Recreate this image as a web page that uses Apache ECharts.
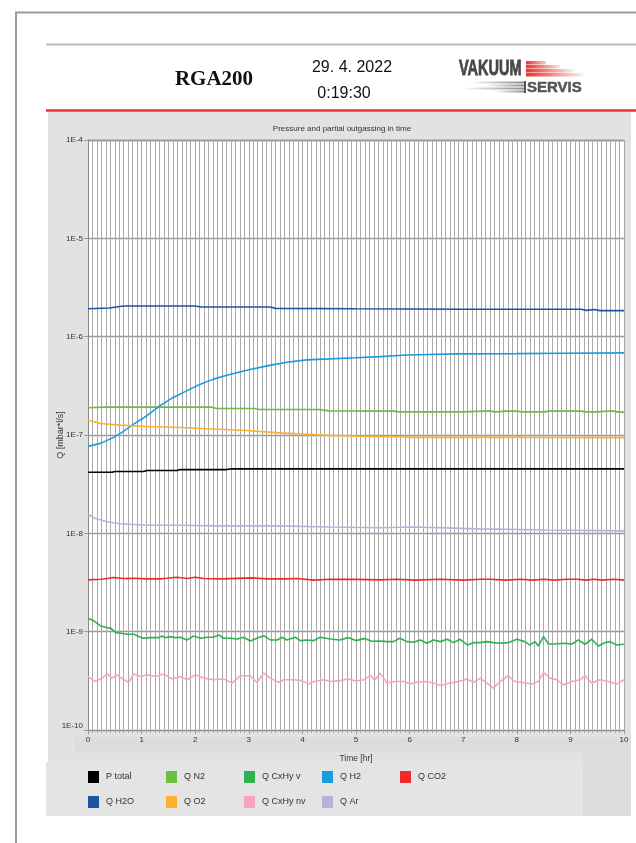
<!DOCTYPE html>
<html><head><meta charset="utf-8">
<script src="https://cdn.jsdelivr.net/npm/echarts@6/dist/echarts.min.js"></script>
<style>html,body{margin:0;padding:0;background:#fff}#main{width:636px;height:843px}</style>
</head><body><div id="main"></div>
<script>
// ---------- data (time in hours, Q in mbar*l/s) ----------
const seriesNames = ['P total','Q N2','Q CxHy v','Q H2','Q CO2','Q H2O','Q O2','Q CxHy nv','Q Ar'];
const seriesColors = ['#000000','#6abd45','#2eb24e','#1b9cdb','#ee2b2b','#1d54a4','#fbb02f','#f5a3c1','#b9b1d9'];
const xTickLabels = ['0','1','2','3','4','5','6','7','8','9','10'];
const yTickLabels = ['1E-10','1E-9','1E-8','1E-7','1E-6','1E-5','1E-4'];
const legendRows = [['P total','Q N2','Q CxHy v','Q H2','Q CO2'],['Q H2O','Q O2','Q CxHy nv','Q Ar']];

const tPtotal = [0,0.45,0.5,1.04,1.1,1.66,1.72,2.59,2.65,10];
const vPtotal = [4.18e-8,4.18e-8,4.25e-8,4.25e-8,4.35e-8,4.35e-8,4.45e-8,4.45e-8,4.52e-8,4.52e-8];

const tN2 = [0,0.3,2.3,2.4,3.1,3.2,4.3,4.5,5.7,5.8,7.0,7.4,7.5,7.6,7.8,8.0,8.1,8.5,8.6,9.2,9.3,9.5,9.7,9.8,9.9,10];
const vN2 = [1.89e-7,1.92e-7,1.92e-7,1.86e-7,1.86e-7,1.82e-7,1.82e-7,1.76e-7,1.75e-7,1.72e-7,1.72e-7,1.75e-7,1.75e-7,1.72e-7,1.75e-7,1.75e-7,1.72e-7,1.72e-7,1.75e-7,1.75e-7,1.72e-7,1.72e-7,1.75e-7,1.75e-7,1.71e-7,1.71e-7];

const tCxHyV = [0,0.11,0.24,0.33,0.43,0.52,0.61,0.74,0.86,0.95,1.04,1.16,1.32,1.38,1.44,1.54,1.63,1.72,1.85,1.97,2.10,2.22,2.34,2.44,2.53,2.66,2.78,2.90,3.03,3.15,3.28,3.40,3.53,3.62,3.71,3.87,3.96,4.08,4.21,4.33,4.52,
  4.7,4.85,5.0,5.15,5.3,
  5.45,5.58,5.70,5.82,5.95,6.07,6.20,6.32,6.45,6.57,6.70,6.82,6.94,7.08,7.19,7.32,7.44,7.56,7.69,7.84,8.0,8.15,8.24,8.34,8.40,8.50,8.59,8.71,8.87,9.03,9.15,9.27,9.40,9.52,9.64,9.74,9.86,10.0];
const vCxHyV = [13.7e-10,12.9e-10,11.4e-10,11.1e-10,10.8e-10,9.77e-10,9.63e-10,9.41e-10,9.41e-10,8.90e-10,
  8.57e-10,8.69e-10,8.69e-10,9.04e-10,8.69e-10,8.90e-10,8.69e-10,8.77e-10,8.24e-10,9.04e-10,
  8.57e-10,8.77e-10,8.77e-10,9.26e-10,8.57e-10,8.57e-10,8.43e-10,8.77e-10,8.05e-10,
  8.57e-10,9.10e-10,8.24e-10,8.24e-10,8.77e-10,8.24e-10,8.77e-10,8.11e-10,8.24e-10,8.11e-10,8.77e-10,8.43e-10,
  8.24e-10,8.70e-10,8.11e-10,8.50e-10,8.00e-10,
  8.05e-10,7.92e-10,7.92e-10,8.57e-10,7.92e-10,7.80e-10,8.24e-10,7.62e-10,8.24e-10,7.92e-10,
  8.37e-10,7.73e-10,8.37e-10,7.33e-10,7.73e-10,7.73e-10,7.92e-10,7.73e-10,7.62e-10,7.73e-10,
  8.37e-10,7.92e-10,7.33e-10,7.92e-10,7.16e-10,8.90e-10,7.50e-10,7.50e-10,7.62e-10,7.50e-10,
  8.24e-10,7.45e-10,8.37e-10,7.16e-10,7.73e-10,7.92e-10,7.33e-10,7.45e-10];

const tH2 = [0,0.23,0.48,0.66,0.85,1.1,1.34,1.59,1.84,2.03,2.34,2.59,2.96,3.34,3.71,4.08,4.51,5.0,5.45,5.95,6.88,8.0,8.87,10];
const vH2 = [7.66e-8,8.22e-8,9.46e-8,1.09e-7,1.29e-7,1.57e-7,1.98e-7,2.41e-7,2.81e-7,3.16e-7,3.70e-7,4.06e-7,4.56e-7,5.05e-7,5.50e-7,5.81e-7,5.94e-7,6.10e-7,6.27e-7,6.52e-7,6.68e-7,6.72e-7,6.79e-7,6.84e-7];

const tCO2 = [0,0.24,0.36,0.47,0.67,0.85,1.1,1.35,1.47,1.66,1.85,2.0,2.16,2.47,3.09,3.34,3.71,3.9,4.21,4.52,5.0,5.45,5.76,6.1,6.57,7.0,7.32,7.5,7.8,8.06,8.3,8.5,8.7,8.93,9.12,9.3,9.43,9.6,9.8,10];
const vCO2 = [3.36e-9,3.41e-9,3.47e-9,3.55e-9,3.47e-9,3.49e-9,3.44e-9,3.44e-9,3.49e-9,3.58e-9,
  3.47e-9,3.58e-9,3.47e-9,3.44e-9,3.52e-9,3.44e-9,3.44e-9,3.47e-9,3.34e-9,3.41e-9,
  3.40e-9,3.36e-9,3.41e-9,3.34e-9,3.41e-9,3.34e-9,3.41e-9,3.41e-9,3.34e-9,3.41e-9,
  3.34e-9,3.41e-9,3.34e-9,3.41e-9,3.41e-9,3.34e-9,3.41e-9,3.34e-9,3.41e-9,3.34e-9];

const tH2O = [0,0.4,0.66,2.0,2.1,3.4,3.5,5.0,7.0,9.2,9.3,9.45,9.55,10];
const vH2O = [1.92e-6,1.96e-6,2.05e-6,2.05e-6,2.0e-6,2.0e-6,1.94e-6,1.92e-6,1.90e-6,1.90e-6,1.85e-6,1.89e-6,1.84e-6,1.84e-6];

const tO2 = [0,0.23,0.6,1.1,1.72,2.34,2.96,3.58,4.2,4.5,5.45,5.9,6.0,7.3,7.37,7.45,7.95,8.0,8.1,10];
const vO2 = [1.42e-7,1.31e-7,1.26e-7,1.22e-7,1.19e-7,1.15e-7,1.11e-7,1.05e-7,1.01e-7,9.91e-8,9.61e-8,9.61e-8,9.46e-8,9.46e-8,9.62e-8,9.46e-8,9.46e-8,9.62e-8,9.46e-8,9.40e-8];

const tCxHyNv = [0,0.14,0.26,0.36,0.45,0.54,0.67,0.76,0.85,0.98,1.10,1.26,1.41,1.57,1.72,1.85,2.0,2.16,2.34,2.53,2.69,2.84,3.03,3.15,3.28,3.40,3.56,3.65,3.84,3.99,4.12,4.21,4.40,4.52,
  4.7,4.85,5.0,5.15,5.27,5.35,
  5.45,5.58,5.73,5.89,6.01,6.14,6.29,6.45,6.57,6.76,6.91,7.07,7.19,7.32,7.44,7.56,7.69,7.84,7.97,8.12,8.28,8.40,8.50,8.62,8.75,8.87,9.03,9.18,9.27,9.40,9.55,9.71,9.86,10.0];
const vCxHyNv = [3.50e-10,3.11e-10,3.37e-10,3.72e-10,3.37e-10,3.64e-10,3.24e-10,3.04e-10,3.72e-10,3.50e-10,
  3.64e-10,3.50e-10,3.72e-10,3.31e-10,3.50e-10,3.24e-10,3.64e-10,3.37e-10,3.24e-10,3.31e-10,
  3.00e-10,3.56e-10,3.56e-10,3.04e-10,3.79e-10,3.37e-10,3.04e-10,3.24e-10,3.24e-10,3.18e-10,
  2.93e-10,3.11e-10,3.24e-10,3.11e-10,
  3.18e-10,3.30e-10,3.15e-10,3.24e-10,3.60e-10,3.20e-10,
  3.79e-10,3.00e-10,3.11e-10,3.11e-10,2.95e-10,3.07e-10,3.11e-10,3.00e-10,2.83e-10,3.00e-10,
  3.11e-10,3.31e-10,3.04e-10,3.37e-10,3.00e-10,2.67e-10,3.11e-10,3.56e-10,3.11e-10,3.04e-10,
  2.93e-10,3.11e-10,3.84e-10,3.37e-10,3.24e-10,2.88e-10,3.11e-10,3.24e-10,3.56e-10,3.00e-10,
  3.24e-10,3.11e-10,2.93e-10,3.24e-10];

const tAr = [0,0.1,0.35,0.6,1.1,1.72,2.34,3.58,4.5,5.45,6.07,7.3,8.56,10];
const vAr = [1.58e-8,1.44e-8,1.31e-8,1.25e-8,1.21e-8,1.21e-8,1.19e-8,1.19e-8,1.16e-8,1.14e-8,1.16e-8,1.11e-8,1.08e-8,1.06e-8];

// ---------- build ----------
const seriesTimes = [tPtotal,tN2,tCxHyV,tH2,tCO2,tH2O,tO2,tCxHyNv,tAr];
const seriesValues = [vPtotal,vN2,vCxHyV,vH2,vCO2,vH2O,vO2,vCxHyNv,vAr];
function pairs(t, v){ return t.map((x,i)=>[x, v[i]]); }

const FONT = '"Liberation Sans", Arial, sans-serif';

const series = seriesNames.map((name,i)=>({
  name, type:'line', data: pairs(seriesTimes[i], seriesValues[i]),
  showSymbol:false, symbol:'none', animation:false,
  lineStyle:{width:1.6, color:seriesColors[i]},
  itemStyle:{color:seriesColors[i]},
  emphasis:{disabled:true}
}));

const legends = [];
legendRows.forEach((row,r)=>row.forEach((name,c)=>{
  legends.push({
    data:[name], left: 88 + c*78, top: 771 + r*25, orient:'horizontal',
    icon:'rect', itemWidth:11, itemHeight:12, padding:0, selectedMode:false,
    textStyle:{fontSize:9, color:'#333', fontFamily:FONT, padding:[0,0,0,2]}
  });
}));

function gradBar(x,y,w,h,c1,c2){
  return {type:'rect', z:5, shape:{x,y,width:w,height:h},
    style:{fill:new echarts.graphic.LinearGradient(0,0,1,0,[{offset:0,color:c1},{offset:1,color:c2}])}};
}

const graphics = [
  // page frame
  {type:'line', z:-10, shape:{x1:16,y1:12,x2:16,y2:843}, style:{stroke:'#9a9a9a', lineWidth:2}},
  {type:'line', z:-10, shape:{x1:15,y1:12.5,x2:636,y2:12.5}, style:{stroke:'#9a9a9a', lineWidth:2}},
  {type:'line', z:-10, shape:{x1:46,y1:44.5,x2:636,y2:44.5}, style:{stroke:'#bcbcbc', lineWidth:2}},
  {type:'line', z:-10, shape:{x1:46,y1:110.5,x2:636,y2:110.5}, style:{stroke:'#e8302c', lineWidth:2.5}},
  // panels
  {type:'rect', z:-10, shape:{x:48,y:112,width:583,height:650}, style:{fill:'#e2e2e2'}},
  {type:'rect', z:-9, shape:{x:75,y:737,width:514,height:15}, style:{fill:'#dcdcdb'}},
  {type:'rect', z:-9, shape:{x:583,y:737,width:48,height:79}, style:{fill:'#dcdcdb'}},
  {type:'rect', z:-9, shape:{x:46,y:762,width:537,height:54}, style:{fill:'#e4e4e4'}},
  // header texts
  {type:'text', z:10, x:214, y:80, style:{text:'RGA200', font:'bold 21px "Liberation Serif", "Times New Roman", serif', fill:'#111', align:'center', verticalAlign:'middle'}},
  {type:'text', z:10, x:352, y:68, style:{text:'29. 4. 2022', font:'16px '+FONT, fill:'#111', align:'center', verticalAlign:'middle'}},
  {type:'text', z:10, x:344, y:94, style:{text:'0:19:30', font:'16px '+FONT, fill:'#111', align:'center', verticalAlign:'middle'}},
  // logo
  {type:'text', z:10, x:459, y:69, scaleX:0.66, style:{text:'VAKUUM', font:'900 22px '+FONT, fill:'#474747', stroke:'#474747', lineWidth:0.8, align:'left', verticalAlign:'middle'}},
  gradBar(526,61,20,3.5,'#e5352b','rgba(229,53,43,0.25)'),
  gradBar(526,65,34,3.5,'#e5352b','rgba(229,53,43,0.15)'),
  gradBar(526,69,48,3.5,'#e5352b','rgba(229,53,43,0.08)'),
  gradBar(526,73,58,3.5,'#e5352b','rgba(229,53,43,0.05)'),
  gradBar(470,81.5,54,2,'rgba(140,140,140,0)','#8a8a8a'),
  gradBar(485,84.5,39,2,'rgba(140,140,140,0)','#8a8a8a'),
  gradBar(462,87.5,62,2,'rgba(140,140,140,0)','#8a8a8a'),
  gradBar(495,90.5,29,2,'rgba(140,140,140,0)','#8a8a8a'),
  {type:'rect', z:6, shape:{x:524,y:81,width:2,height:12}, style:{fill:'#555'}},
  {type:'text', z:10, x:527, y:87.5, style:{text:'SERVIS', font:'bold 15px '+FONT, fill:'#555', stroke:'#555', lineWidth:0.5, align:'left', verticalAlign:'middle'}}
];

const chart = echarts.init(document.getElementById('main'), null, {renderer:'canvas'});
chart.setOption({
  animation:false,
  backgroundColor:'#ffffff',
  title:{text:'Pressure and partial outgassing in time', left:337, top:120, textAlign:'center',
    textStyle:{fontSize:8, fontWeight:'normal', color:'#333', fontFamily:FONT}},
  grid:{left:88, right:12, top:140, bottom:113, show:true, backgroundColor:'#ffffff', borderWidth:0,
    containLabel:false, outerBoundsMode:'none'},
  legend: legends,
  xAxis:{type:'value', min:0, max:10, interval:1,
    name:'Time [hr]', nameLocation:'middle', nameGap:24, nameMoveOverlap:false,
    nameTextStyle:{fontSize:8.5, color:'#333', fontFamily:FONT},
    axisLine:{show:true, lineStyle:{color:'#888', width:1}},
    axisTick:{show:true, length:4, lineStyle:{color:'#999'}},
    minorTick:{show:true, splitNumber:12, length:3, lineStyle:{color:'#aaa'}},
    splitLine:{show:true, lineStyle:{color:'#a6a6a6', width:1}},
    minorSplitLine:{show:true, lineStyle:{color:'#aaaaaa', width:1}},
    axisLabel:{fontSize:8, color:'#333', fontFamily:FONT, margin:6,
      formatter:(v)=>xTickLabels[Math.round(v)]}
  },
  yAxis:{type:'log', logBase:10, min:1e-10, max:1e-4,
    name:'Q [mbar*l/s]', nameLocation:'middle', nameGap:23, nameMoveOverlap:false,
    nameTextStyle:{fontSize:9, color:'#333', fontFamily:FONT},
    axisLine:{show:true, lineStyle:{color:'#888', width:1}},
    axisTick:{show:true, length:4, lineStyle:{color:'#999'}},
    minorTick:{show:false}, minorSplitLine:{show:false},
    splitLine:{show:true, lineStyle:{color:'#999', width:1.3}},
    axisLabel:{fontSize:8, color:'#333', fontFamily:FONT, margin:5,
      verticalAlignMinLabel:'bottom', verticalAlignMaxLabel:'top',
      formatter:(v)=>yTickLabels[Math.round(Math.log10(v))+10]}
  },
  graphic: graphics,
  series
});
</script></body></html>
